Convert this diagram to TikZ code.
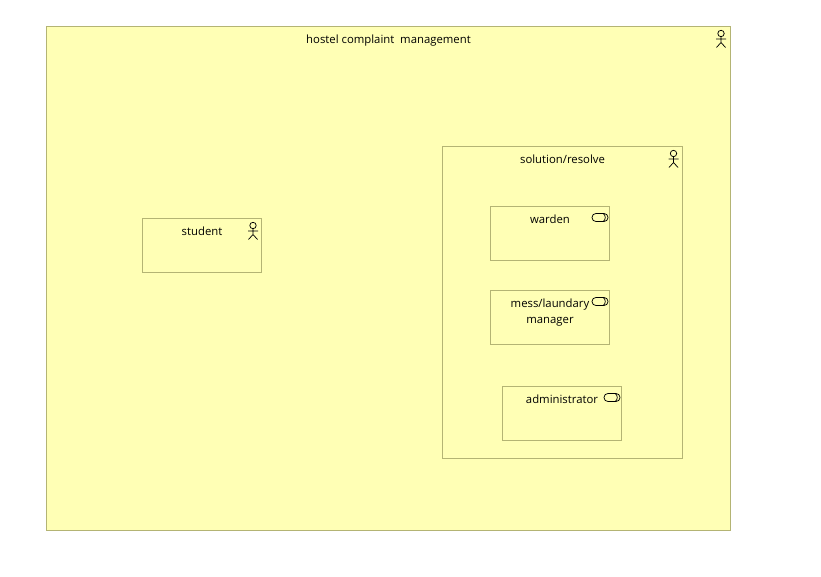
\documentclass[tikz,border=0pt]{standalone}
\usepackage{fontspec}
\setmainfont{Open Sans}
\usepackage{tikz}
\definecolor{boxfill}{HTML}{FFFFB5}
\definecolor{boxline}{HTML}{B4B474}
\tikzset{
  box/.style={draw=boxline, fill=boxfill, line width=0.75pt, anchor=north west, inner sep=0pt, outer sep=0pt},
  boxtext/.style={anchor=north, align=center, font=\fontsize{8.5pt}{12pt}\selectfont, inner sep=0pt, yshift=-6.3pt},
  actor/.pic={
    \draw[line width=0.55pt] (0,3) circle [radius=2.4pt];
    \draw[line width=0.55pt] (0,6.2) -- (0,12) (-5,8.5) -- (5,8.5) (-4.5,17) -- (0,12) -- (4.5,17);
  },
  service/.pic={
    \draw[line width=0.55pt, rounded corners=2.9pt] (-8,-4) rectangle (8,4);
    \draw[line width=0.55pt] (3,-4) .. controls (6,-3) and (6,3) .. (3,4);
  }
}
\begin{document}
\begin{tikzpicture}[x=0.75pt, y=-0.75pt]
  \useasboundingbox (0,0) rectangle (821,577);
  % outer
  \node[box, minimum width=684*0.75pt, minimum height=504*0.75pt] (hostel) at (46.5,26.5) {};
  \node[boxtext] (hosteltext) at (hostel.north) {hostel complaint\ \ management};
  \pic at (721,30.5) {actor};
  % student
  \node[box, minimum width=119*0.75pt, minimum height=54*0.75pt] (student) at (142.5,218.5) {};
  \node[boxtext] (studenttext) at (student.north) {student};
  \pic at (253,222.5) {actor};
  % solution
  \node[box, minimum width=240*0.75pt, minimum height=312*0.75pt] (solution) at (442.5,146.5) {};
  \node[boxtext] (solutiontext) at (solution.north) {solution/resolve};
  \pic at (673.5,150.5) {actor};
  % services
  \node[box, minimum width=119*0.75pt, minimum height=54*0.75pt] (warden) at (490.5,206.5) {};
  \node[boxtext] (wardentext) at (warden.north) {warden};
  \pic at (600,217.5) {service};
  \node[box, minimum width=119*0.75pt, minimum height=54*0.75pt] (manager) at (490.5,290.5) {};
  \node[boxtext] (managertext) at (manager.north) {mess/laundary\\manager};
  \pic at (600,301.5) {service};
  \node[box, minimum width=119*0.75pt, minimum height=54*0.75pt] (admin) at (502.5,386.5) {};
  \node[boxtext] (admintext) at (admin.north) {administrator};
  \pic at (612,397.5) {service};
\end{tikzpicture}
\end{document}
